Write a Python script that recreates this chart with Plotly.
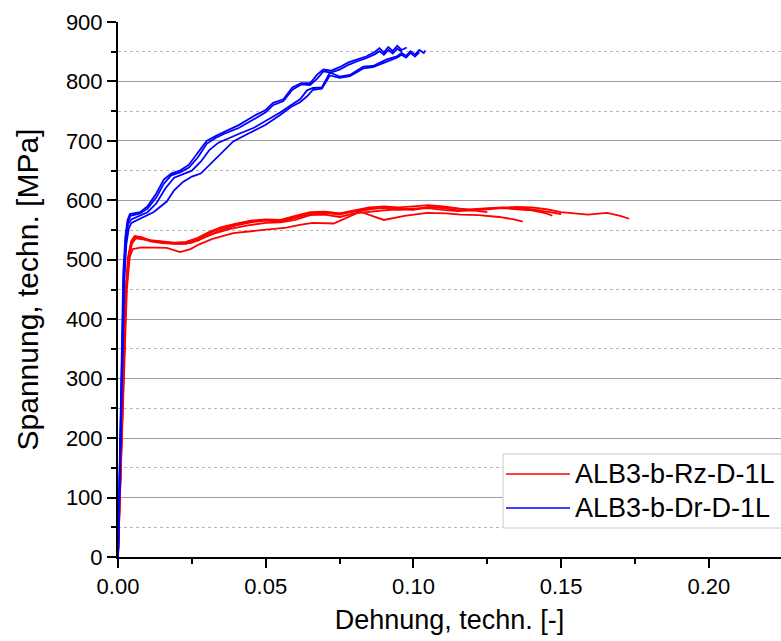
import plotly.graph_objects as go

# ---- Zugversuche (Rz), technische Dehnung [-] / Spannung [MPa] ----
rz1_strain = [0, 0.0008, 0.0016, 0.0025, 0.0034, 0.0045, 0.0057, 0.008, 0.011, 0.015, 0.019, 0.023,
              0.027, 0.031, 0.035, 0.040, 0.045, 0.050, 0.055, 0.060, 0.065, 0.070, 0.075, 0.080,
              0.085, 0.090, 0.095, 0.100, 0.105, 0.110, 0.115, 0.120, 0.125, 0.130, 0.135, 0.140,
              0.145, 0.150]
rz1_stress = [0, 150, 300, 440, 505, 532, 540, 538, 532, 530, 528, 529,
              535, 545, 553, 560, 565, 567, 566, 572, 578, 579, 576, 582,
              586, 587, 584, 585, 589, 587, 583, 585, 587, 588, 587, 585,
              581, 577]

rz2_strain = [0, 0.0009, 0.0018, 0.0027, 0.0036, 0.0047, 0.0058, 0.008, 0.011, 0.015, 0.019, 0.023,
              0.027, 0.031, 0.035, 0.040, 0.045, 0.050, 0.055, 0.060, 0.065, 0.070, 0.075, 0.080,
              0.085, 0.090, 0.095, 0.100, 0.105, 0.110, 0.115, 0.120, 0.125, 0.130, 0.135, 0.140,
              0.145, 0.150, 0.155, 0.159, 0.1655, 0.170, 0.173]
rz2_stress = [0, 160, 310, 445, 505, 530, 537, 536, 531, 528, 527, 527,
              532, 542, 550, 558, 563, 566, 564, 570, 577, 580, 578, 581,
              585, 588, 586, 584, 588, 589, 586, 584, 586, 588, 589, 588,
              585, 580, 578, 576, 579, 574, 569]

rz3_strain = [0, 0.0008, 0.0017, 0.0026, 0.0035, 0.0046, 0.0056, 0.008, 0.011, 0.015, 0.019, 0.023,
              0.027, 0.031, 0.035, 0.040, 0.045, 0.050, 0.055, 0.060, 0.065, 0.070, 0.075, 0.080,
              0.085, 0.090, 0.095, 0.100, 0.105, 0.110, 0.115, 0.120, 0.125, 0.130, 0.135, 0.140,
              0.145, 0.147]
rz3_stress = [0, 155, 305, 442, 503, 531, 539, 537, 533, 531, 529, 530,
              537, 547, 555, 561, 566, 568, 567, 574, 580, 581, 578, 583,
              588, 590, 588, 590, 592, 590, 586, 583, 585, 587, 585, 583,
              578, 574]

rz4_strain = [0, 0.001, 0.002, 0.003, 0.004, 0.005, 0.008, 0.012, 0.0165, 0.021, 0.0245, 0.0275,
              0.032, 0.039, 0.045, 0.050, 0.057, 0.062, 0.066, 0.073, 0.078, 0.082, 0.086, 0.090,
              0.097, 0.1046, 0.111, 0.116, 0.122, 0.129, 0.134, 0.137]
rz4_stress = [0, 160, 320, 450, 505, 518, 521, 521, 520, 513, 518, 526,
              535, 545, 548, 550, 554, 559, 562, 561, 572, 581, 574, 567,
              574, 579, 578, 576, 575, 572, 568, 564]

rz5_strain = [0, 0.0009, 0.0018, 0.0027, 0.0036, 0.0047, 0.006, 0.009, 0.013, 0.017, 0.021, 0.025,
              0.029, 0.033, 0.038, 0.044, 0.050, 0.055, 0.060, 0.065, 0.070, 0.075, 0.080, 0.085,
              0.090, 0.095, 0.100, 0.105, 0.110, 0.115, 0.120, 0.125]
rz5_stress = [0, 150, 300, 435, 500, 527, 536, 534, 530, 528, 527, 529,
              537, 545, 552, 558, 562, 563, 567, 575, 576, 572, 578, 581,
              583, 585, 586, 587, 584, 582, 583, 580]

# ---- Druckversuche (Dr) ----
dr1_strain = [0, 0.0006, 0.0012, 0.0018, 0.0025, 0.0032, 0.004, 0.0075, 0.010, 0.013, 0.0155, 0.018,
              0.021, 0.024, 0.027, 0.030, 0.033, 0.036, 0.041, 0.046, 0.050, 0.0525, 0.056, 0.059,
              0.062, 0.065, 0.0675, 0.0695, 0.072, 0.075, 0.078, 0.081, 0.084, 0.087, 0.0885,
              0.090, 0.0915, 0.093, 0.0945, 0.096, 0.0977]
dr1_stress = [0, 150, 330, 480, 540, 566, 577, 580, 590, 612, 635, 645,
              650, 660, 680, 700, 708, 715, 727, 742, 752, 764, 770, 790,
              797, 797, 812, 820, 818, 824, 832, 837, 842, 850, 856,
              849, 858, 851, 860, 853, 857]

dr2_strain = [0, 0.0006, 0.0012, 0.0019, 0.0026, 0.0033, 0.0042, 0.0075, 0.010, 0.013, 0.0155, 0.018,
              0.021, 0.024, 0.027, 0.030, 0.033, 0.036, 0.041, 0.046, 0.050, 0.0525, 0.056, 0.059,
              0.062, 0.065, 0.0675, 0.0695, 0.072, 0.075, 0.078, 0.081, 0.084, 0.087, 0.0885,
              0.090, 0.0915, 0.093, 0.0945, 0.096]
dr2_stress = [0, 145, 320, 470, 535, 562, 574, 578, 586, 605, 628, 642,
              647, 655, 672, 695, 705, 712, 722, 737, 748, 760, 767, 786,
              795, 794, 805, 817, 815, 820, 828, 834, 839, 846, 851,
              845, 853, 847, 855, 850]

dr3_strain = [0, 0.0007, 0.0014, 0.002, 0.0027, 0.0034, 0.0045, 0.0075, 0.010, 0.013, 0.016, 0.019,
              0.022, 0.025, 0.028, 0.031, 0.034, 0.037, 0.041, 0.046, 0.050, 0.055, 0.0585, 0.0616,
              0.064, 0.066, 0.069, 0.0717, 0.075, 0.0785, 0.083, 0.0863, 0.091, 0.0944, 0.096,
              0.0975, 0.099, 0.1005, 0.102, 0.1035, 0.104]
dr3_stress = [0, 150, 320, 470, 535, 560, 568, 574, 580, 595, 620, 638,
              644, 650, 665, 685, 697, 704, 712, 722, 733, 748, 760, 770,
              785, 789, 790, 815, 808, 811, 825, 826, 837, 842, 848,
              843, 851, 845, 853, 848, 852]

dr4_strain = [0, 0.0007, 0.0014, 0.0021, 0.0028, 0.0036, 0.0045, 0.0085, 0.012, 0.0165, 0.019, 0.022,
              0.025, 0.028, 0.032, 0.036, 0.039, 0.044, 0.050, 0.055, 0.0585, 0.0616, 0.064, 0.066,
              0.069, 0.0717, 0.075, 0.0785, 0.083, 0.0863, 0.091, 0.0944, 0.096, 0.0975, 0.099,
              0.1005, 0.102]
dr4_stress = [0, 140, 310, 460, 525, 552, 562, 571, 580, 598, 617, 631,
              640, 645, 665, 685, 699, 712, 727, 744, 757, 765, 775, 786,
              788, 810, 806, 809, 822, 824, 834, 840, 845, 840, 848,
              842, 849]

tension_curves = [(rz1_strain, rz1_stress), (rz2_strain, rz2_stress), (rz3_strain, rz3_stress),
                  (rz4_strain, rz4_stress), (rz5_strain, rz5_stress)]
compression_curves = [(dr1_strain, dr1_stress), (dr2_strain, dr2_stress),
                      (dr3_strain, dr3_stress), (dr4_strain, dr4_stress)]

series_names = ["ALB3-b-Rz-D-1L", "ALB3-b-Dr-D-1L"]
series_colors = ["#ff0000", "#0000ff"]

x_ticks = [0.00, 0.05, 0.10, 0.15, 0.20]
y_ticks = [0, 100, 200, 300, 400, 500, 600, 700, 800, 900]

FONT = "Liberation Sans, Arial, sans-serif"

fig = go.Figure()
for group, name, color in [(tension_curves, series_names[0], series_colors[0]),
                           (compression_curves, series_names[1], series_colors[1])]:
    for strain, stress in group:
        fig.add_trace(go.Scatter(
            x=strain, y=stress, mode="lines", name=name, legendgroup=name,
            showlegend=False, line=dict(color=color, width=1.8),
        ))

# Legend box (drawn in paper coordinates)
fig.add_shape(type="rect", xref="paper", yref="paper", x0=0.5807, x1=1.06, y0=0.0542, y1=0.1925,
              line=dict(color="#c8c8c8", width=1), fillcolor="white", layer="above")
for i, (name, color) in enumerate(zip(series_names, series_colors)):
    yp = 0.1551 - i * 0.0636
    fig.add_shape(type="line", xref="paper", yref="paper", x0=0.5852, x1=0.6817, y0=yp, y1=yp,
                  line=dict(color=color, width=1.5), layer="above")
    fig.add_annotation(xref="paper", yref="paper", x=0.6923, y=yp, text=name, showarrow=False,
                       xanchor="left", yanchor="middle", xshift=-4,
                       font=dict(family=FONT, size=27, color="black"))

fig.update_layout(
    width=781, height=641,
    margin=dict(l=118, r=0, t=22, b=84, autoexpand=False),
    paper_bgcolor="white", plot_bgcolor="white",
    font=dict(family=FONT, size=22, color="black"),
    showlegend=False,
)
fig.update_xaxes(
    range=[0, 0.2244], tickvals=x_ticks, ticktext=[f"{v:.2f}" for v in x_ticks],
    showline=True, linecolor="black", linewidth=2, ticks="outside", ticklen=9, tickwidth=2,
    tickcolor="black", showgrid=False, zeroline=False,
    minor=dict(dtick=0.025, tick0=0, ticks="outside", ticklen=5, tickwidth=2, tickcolor="black",
               showgrid=False),
    title=dict(text="Dehnung, techn. [-]", font=dict(size=27), standoff=12),
    tickfont=dict(size=22),
)
fig.update_yaxes(
    range=[0, 900], tickvals=y_ticks,
    showline=True, linecolor="black", linewidth=2, ticks="outside", ticklen=9, tickwidth=2,
    tickcolor="black", showgrid=True, gridcolor="#9e9e9e", gridwidth=1.3, zeroline=False,
    minor=dict(dtick=50, tick0=0, ticks="outside", ticklen=5, tickwidth=2, tickcolor="black",
               showgrid=True, gridcolor="#b5b5b5", gridwidth=1, griddash="dot"),
    title=dict(text="Spannung, techn. [MPa]", font=dict(size=30), standoff=18),
    tickfont=dict(size=22),
)

fig.write_html("out.html")
